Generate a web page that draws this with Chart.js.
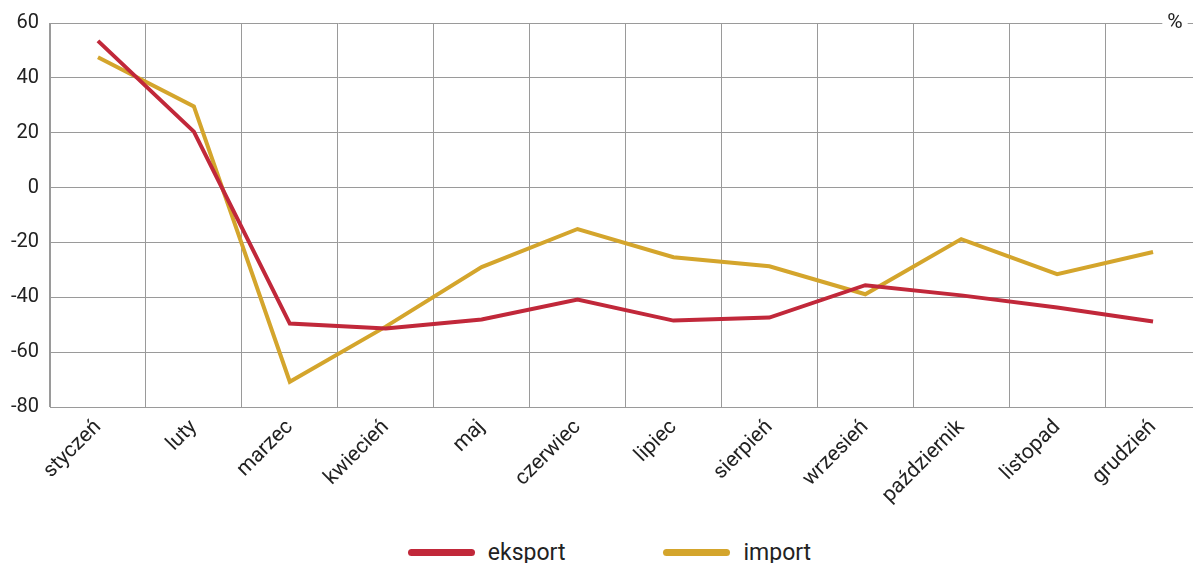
<!DOCTYPE html>
<html>
<head>
<meta charset="utf-8">
<script src="https://cdn.jsdelivr.net/npm/chart.js@4.4.1/dist/chart.umd.min.js"></script>
<style>
  html, body { margin: 0; padding: 0; background: #fff; overflow: hidden; }
  #wrap { width: 1201px; height: 527px; }
  #legend {
    width: 1201px; height: 50px;
    display: flex; justify-content: center; align-items: center;
    box-sizing: border-box; padding-left: 18px;
    font-family: Roboto, sans-serif; font-size: 23px; color: #222;
  }
  .item { display: flex; align-items: center; margin: 0 49px; }
  .swatch { width: 67px; height: 7px; border-radius: 3.5px; margin-right: 13px; }
</style>
</head>
<body>
<div id="wrap"><canvas id="chart"></canvas></div>
<div id="legend"></div>
<script>
// months on the x axis
const months = ['styczeń', 'luty', 'marzec', 'kwiecień', 'maj', 'czerwiec',
    'lipiec', 'sierpień', 'wrzesień', 'październik', 'listopad', 'grudzień'];

// series values in %
const eksport = [53.5, 20.4, -49.6, -51.4, -48.1, -40.8, -48.5, -47.4, -35.6, -39.3, -43.7, -48.8];
const importValues = [47.5, 29.6, -70.8, -50.7, -29.0, -15.1, -25.4, -28.7, -38.9, -18.8, -31.6, -23.5];

// y axis range / step
const yMin = -80;
const yMax = 60;
const yStep = 20;

const colEksport = '#c1283a';
const colImport = '#d4a52c';
const textColor = '#222';

// "%" unit label sitting on the top gridline
const unitLabel = {
    id: 'unitLabel',
    afterDraw(chart) {
        const ctx = chart.ctx;
        const y = chart.scales.y.getPixelForValue(yMax);
        const x = 1175;
        ctx.save();
        ctx.font = '21px Roboto';
        const w = ctx.measureText('%').width;
        ctx.fillStyle = '#fff';
        ctx.fillRect(x - w / 2 - 5, y - 3, w + 10, 6);
        ctx.fillStyle = textColor;
        ctx.textAlign = 'center';
        ctx.textBaseline = 'middle';
        ctx.fillText('%', x, y);
        ctx.restore();
    }
};

const ctx = document.getElementById('chart').getContext('2d');
const chart = new Chart(ctx, {
    type: 'line',
    data: {
        labels: months,
        datasets: [{
            label: 'eksport',
            data: eksport,
            borderColor: colEksport,
            backgroundColor: colEksport,
            borderWidth: 4,
            pointRadius: 0,
            tension: 0
        }, {
            label: 'import',
            data: importValues,
            borderColor: colImport,
            backgroundColor: colImport,
            borderWidth: 4,
            pointRadius: 0,
            tension: 0
        }]
    },
    options: {
        responsive: true,
        maintainAspectRatio: false,
        animation: false,
        layout: {
            padding: { top: 17, right: 0, left: 4, bottom: 0 }
        },
        plugins: {
            tooltip: { enabled: false },
            legend: { display: false } // custom legend below
        },
        scales: {
            x: {
                offset: true,
                grid: {
                    offset: true,
                    color: '#9a9a9a',
                    lineWidth: 1,
                    drawTicks: false
                },
                border: { color: '#9a9a9a' },
                ticks: {
                    color: textColor,
                    font: { family: 'Roboto', size: 21 },
                    maxRotation: 45,
                    minRotation: 45,
                    padding: 8,
                    autoSkip: false
                },
                afterFit(scale) { scale.height = 120; }
            },
            y: {
                min: yMin,
                max: yMax,
                grid: {
                    color: '#9a9a9a',
                    lineWidth: 1,
                    drawTicks: false
                },
                border: { color: '#9a9a9a' },
                ticks: {
                    stepSize: yStep,
                    color: textColor,
                    font: { family: 'Roboto', size: 20 },
                    padding: 11
                },
                afterFit(scale) { scale.width = 46; }
            }
        }
    },
    plugins: [unitLabel]
});

// Build legend from the datasets
document.getElementById('legend').innerHTML = chart.data.datasets.map(ds => `
    <div class="item">
        <div class="swatch" style="background-color: ${ds.borderColor};"></div>
        <span>${ds.label}</span>
    </div>
`).join('');
</script>
</body>
</html>
